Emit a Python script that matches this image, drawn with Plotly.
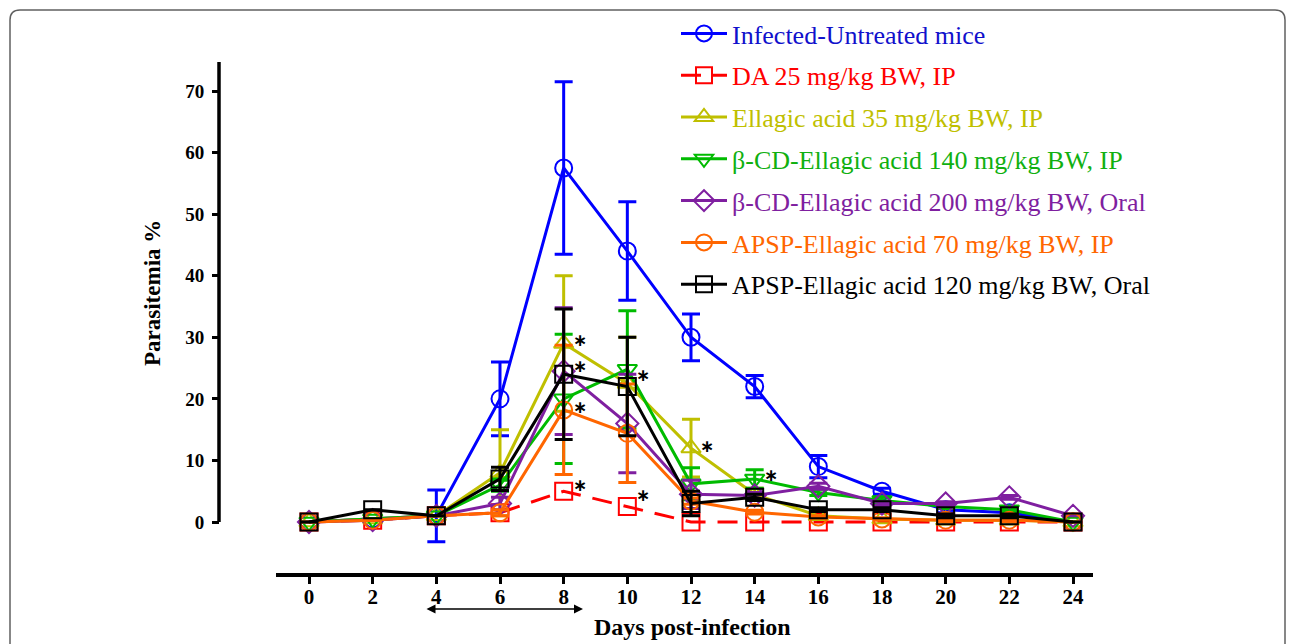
import plotly.graph_objects as go

# ---------------- data ----------------
days = [0, 2, 4, 6, 8, 10, 12, 14, 16, 18, 20, 22, 24]

untreated     = [0, 0.5, 1, 20, 57.5, 44, 30, 22, 9, 5, 2, 1.5, 0]
untreated_err = [0, 0, 4.2, 6, 14, 8, 3.8, 1.8, 1.8, 0.5, 0.5, 0.4, 0]

da25     = [0, 0.3, 1, 1.5, 5, 2.5, 0, 0, 0, 0, 0, 0, 0]
da25_err = [0, 0, 0, 0, 0, 0, 0, 0, 0, 0, 0, 0, 0]

ea35     = [0, 0.5, 1, 8, 29, 22.5, 12, 4.5, 1, 0.5, 0.3, 0.3, 0]
ea35_err = [0, 0, 0, 7, 11, 7.5, 4.7, 1, 0, 0, 0, 0, 0]

bcd140     = [0, 0.5, 1, 6, 20, 24.8, 6.2, 7, 4.8, 3.5, 2.5, 2, 0]
bcd140_err = [0, 0, 0, 1, 10.5, 9.5, 2.6, 1.5, 0.5, 0.5, 0.3, 0.3, 0]

bcd200     = [0, 0.3, 1, 3, 24.5, 16, 4.5, 4.3, 5.8, 3, 3, 4, 1]
bcd200_err = [0, 0, 0, 1, 10.3, 8, 2.3, 0.5, 0.5, 0.3, 0.3, 0.3, 0]

apsp70     = [0, 0.3, 1, 1.5, 18.2, 14.4, 3.4, 1.6, 0.8, 0.5, 0.3, 0.3, 0]
apsp70_err = [0, 0, 0, 0.5, 10.5, 8, 0.5, 0.3, 0.2, 0.2, 0.2, 0.2, 0]

apsp120     = [0, 2, 1, 7, 24, 22, 3, 4, 2, 2, 1, 1, 0]
apsp120_err = [0, 0, 0, 1.9, 10.6, 8, 2, 0.5, 0.3, 0.3, 0.3, 0.3, 0]

names = [
    "Infected-Untreated mice",
    "DA 25 mg/kg BW, IP",
    "Ellagic acid 35 mg/kg BW, IP",
    "β-CD-Ellagic acid 140 mg/kg BW, IP",
    "β-CD-Ellagic acid 200 mg/kg BW, Oral",
    "APSP-Ellagic acid 70 mg/kg BW, IP",
    "APSP-Ellagic acid 120 mg/kg BW, Oral",
]
values = [untreated, da25, ea35, bcd140, bcd200, apsp70, apsp120]
errors = [untreated_err, da25_err, ea35_err, bcd140_err, bcd200_err, apsp70_err, apsp120_err]
colors = ["#0000FF", "#FF0000", "#BFBF00", "#00BB00", "#7F1FA0", "#FF6600", "#000000"]
legend_colors = ["#1010CC", "#FF0000", "#BFBF00", "#10B010", "#7F1FA0", "#FF6600", "#000000"]
symbols = ["circle-open", "square-open", "triangle-up-open", "triangle-down-open",
           "diamond-open", "circle-open", "square-open"]
dashes = ["solid", "dash", "solid", "solid", "solid", "solid", "solid"]

# significance stars: (series index, day index, vertical shift px)
stars = [(2, 4, 3), (4, 4, 5), (5, 4, 3), (1, 4, 6), (3, 5, -6), (1, 5, 12), (2, 6, 2), (3, 7, 4)]

x_ticks = days
y_ticks = [0, 10, 20, 30, 40, 50, 60, 70]

# ---------------- figure ----------------
OFF = 8                      # page body margin of the browser
W, H = 1295 - OFF, 644 - OFF
SERIF = "Liberation Serif, Times New Roman, serif"


def px(X):   # reference x pixel -> paper
    return (X - OFF) / W


def py(Y):   # reference y pixel -> paper
    return 1 - (Y - OFF) / H


fig = go.Figure()
for i in range(len(names)):
    fig.add_trace(go.Scatter(
        x=days, y=values[i],
        mode="lines+markers",
        name=f'<span style="color:{legend_colors[i]}">{names[i]}</span>',
        legendgroup=f"g{i}",
        line=dict(color=colors[i], width=3, dash=dashes[i] if dashes[i] == "solid" else "20px,12px"),
        marker=dict(symbol=symbols[i], size=17, color=colors[i], line=dict(width=2, color=colors[i])),
        error_y=dict(type="data", array=errors[i], visible=any(e > 0 for e in errors[i]),
                     color=colors[i], thickness=3, width=9),
        cliponaxis=False,
    ))

# plot area in reference pixels
x0px, x1px = 276, 1093
ytop, ybot = 62, 573
day_px = (1073 - 309) / 24.0
xr = [(x0px - 309) / day_px, (x1px - 309) / day_px]
ppu = (522 - 91) / 70.0
yr = [(522 - ybot) / ppu, (522 - ytop) / ppu]

fig.update_layout(
    width=W, height=H,
    margin=dict(l=0, r=0, t=0, b=0),
    paper_bgcolor="white", plot_bgcolor="white",
    showlegend=True,
    legend=dict(
        x=px(676), y=py(10), xanchor="left", yanchor="top",
        font=dict(family=SERIF, size=26, color="black"),
        bgcolor="rgba(0,0,0,0)", traceorder="grouped", tracegroupgap=5,
        itemwidth=46,
    ),
    xaxis=dict(
        domain=[px(x0px), px(x1px)], range=xr,
        tickmode="array", tickvals=x_ticks, ticktext=[str(t) for t in x_ticks],
        showline=True, linecolor="black", linewidth=4,
        ticks="outside", ticklen=7, tickwidth=3, tickcolor="black",
        showgrid=False, zeroline=False,
        tickfont=dict(family=SERIF, size=21, color="black", weight="bold"),
        ticklabelstandoff=-5,
        automargin=False,
    ),
    yaxis=dict(
        domain=[py(ybot), py(ytop)], range=yr,
        anchor="free", position=px(219),
        tickmode="array", tickvals=y_ticks,
        showline=False,
        ticks="outside", ticklen=7, tickwidth=3, tickcolor="black",
        showgrid=False, zeroline=False,
        tickfont=dict(family=SERIF, size=19, color="black", weight="bold"),
        ticklabelstandoff=4,
        automargin=False,
    ),
)

# detached y-axis line (from 0 up to the top of the axis)
fig.add_shape(type="line", xref="paper", yref="y", x0=px(219), x1=px(219), y0=0, y1=yr[1],
              line=dict(color="black", width=3.5))

# outer rounded frame
rx, ry = 10 / W, 10 / H
L, R, T, B = px(10), px(1285), py(10), -0.05
path = (f"M {L},{B} L {L},{T-ry} Q {L},{T} {L+rx},{T} L {R-rx},{T} Q {R},{T} {R},{T-ry} L {R},{B}")
fig.add_shape(type="path", xref="paper", yref="paper", path=path,
              line=dict(color="#606060", width=1.5))

# axis titles
fig.add_annotation(text="<b>Parasitemia %</b>", xref="paper", yref="paper",
                   x=px(152), y=py(293), xanchor="center", yanchor="middle",
                   showarrow=False, textangle=-90,
                   font=dict(family=SERIF, size=23, color="black"))
fig.add_annotation(text="<b>Days post-infection</b>", xref="paper", yref="paper",
                   x=px(692), y=py(627), xanchor="center", yanchor="middle",
                   showarrow=False,
                   font=dict(family=SERIF, size=24, color="black"))

# double-headed arrow under days 4-8
fig.add_annotation(x=(583 - 309) / day_px, y=py(609), xref="x", yref="paper",
                   ax=(425 - 309) / day_px, ay=0, axref="x", ayref="pixel",
                   showarrow=True, arrowhead=2, arrowside="end+start",
                   arrowsize=1.2, arrowwidth=1.5, arrowcolor="black", text="")

# stars
for si, di, ys in stars:
    fig.add_annotation(x=days[di], y=values[si][di], xref="x", yref="y",
                       text="<b>∗</b>", showarrow=False, xshift=16, yshift=ys,
                       xanchor="center", yanchor="middle",
                       font=dict(family="DejaVu Sans", size=17, color="black"))

fig.write_html("out.html")
